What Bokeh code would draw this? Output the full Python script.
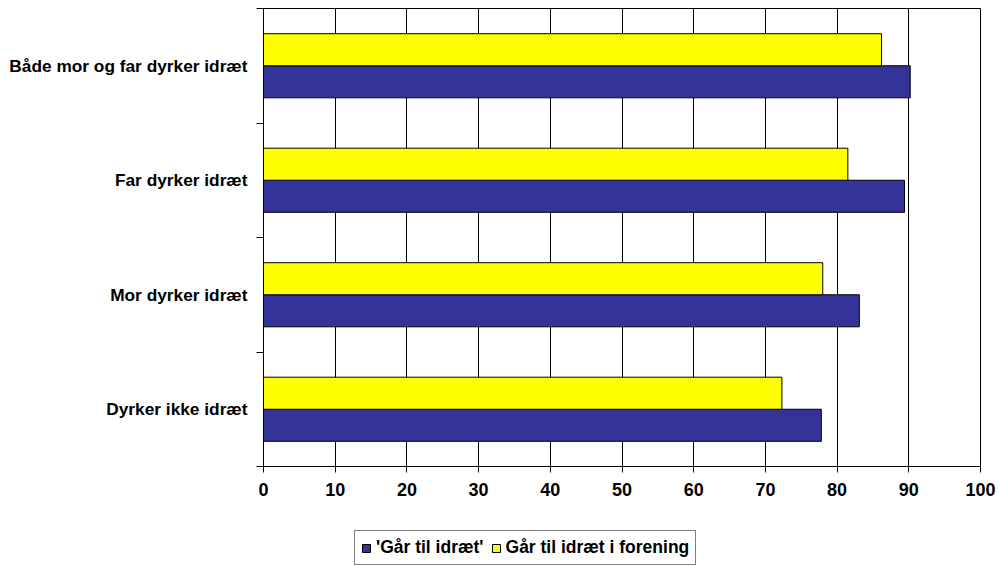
from bokeh.plotting import figure
from bokeh.models import Range1d, FixedTicker, Legend, LegendItem, ColumnDataSource
from bokeh.layouts import column
from bokeh.embed import file_html
from bokeh.resources import INLINE

# Data (top to bottom as in the chart)
categories = ["Både mor og far dyrker idræt", "Far dyrker idræt", "Mor dyrker idræt", "Dyrker ikke idræt"]
gaar_til_idraet = [90.2, 89.4, 83.1, 77.8]
forening = [86.2, 81.5, 78.0, 72.3]
x_ticks = [0, 10, 20, 30, 40, 50, 60, 70, 80, 90, 100]
series_names = ["'Går til idræt'", "Går til idræt i forening"]
colors = ["#333399", "#FFFF00"]

n = len(categories)
ypos = [n - 1 - i + 0.5 for i in range(n)]
bar_h = 0.28

src = ColumnDataSource(dict(
    y=ypos,
    y_blue=[y - bar_h / 2 for y in ypos],
    y_yellow=[y + bar_h / 2 for y in ypos],
    blue=gaar_til_idraet,
    yellow=forening,
))

p = figure(width=998, height=510, output_backend="svg", toolbar_location=None,
           x_range=Range1d(0, 100), y_range=Range1d(0, n),
           min_border_left=263, min_border_right=18, min_border_top=8, min_border_bottom=44)

r_blue = p.hbar(y="y_blue", left=0, right="blue", height=bar_h, source=src,
                fill_color=colors[0], line_color="black", line_width=1)
r_yellow = p.hbar(y="y_yellow", left=0, right="yellow", height=bar_h, source=src,
                  fill_color=colors[1], line_color="black", line_width=1)

p.outline_line_color = "black"
p.outline_line_width = 1
p.background_fill_color = "white"
p.border_fill_color = "white"

# x axis
p.xaxis.ticker = FixedTicker(ticks=x_ticks)
p.xaxis.major_label_text_font = "Liberation Sans"
p.xaxis.major_label_text_font_style = "bold"
p.xaxis.major_label_text_font_size = "18px"
p.xaxis.major_label_text_color = "black"
p.xaxis.major_tick_out = 6
p.xaxis.major_tick_in = 0
p.xaxis.minor_tick_line_color = None
p.xaxis.axis_line_color = "black"
p.xaxis.major_label_standoff = 10

# y axis
p.yaxis.ticker = FixedTicker(ticks=ypos, minor_ticks=list(range(n + 1)))
p.yaxis.major_label_overrides = {y: c for y, c in zip(ypos, categories)}
p.yaxis.major_label_text_font = "Liberation Sans"
p.yaxis.major_label_text_font_style = "bold"
p.yaxis.major_label_text_font_size = "17.3px"
p.yaxis.major_label_text_color = "black"
p.yaxis.major_tick_out = 0
p.yaxis.major_tick_in = 0
p.yaxis.minor_tick_out = 7
p.yaxis.minor_tick_in = 0
p.yaxis.minor_tick_line_color = "black"
p.yaxis.axis_line_color = "black"
p.yaxis.major_label_standoff = 9

p.xgrid.grid_line_color = "black"
p.xgrid.grid_line_alpha = 1
p.xgrid.grid_line_width = 1
p.ygrid.grid_line_color = None

# Legend strip (separate figure so the legend is not clipped by the main frame)
lp = figure(width=998, height=56, output_backend="svg", toolbar_location=None,
            x_range=Range1d(0, 1), y_range=Range1d(0, 1),
            min_border_left=263, min_border_right=18, min_border_top=0, min_border_bottom=0)
lp.axis.visible = False
lp.grid.grid_line_color = None
lp.outline_line_color = None
lp.background_fill_color = "white"
lp.border_fill_color = "white"
# key swatches (hidden under the legend box; only their legend glyphs show)
swatch = ColumnDataSource(dict(y=[0.5], left=[0.3], right=[0.35]))
lg_blue = lp.hbar(y="y", left="left", right="right", height=0.05, source=swatch,
                  fill_color=colors[0], line_color="black", line_width=1)
lg_yellow = lp.hbar(y="y", left="left", right="right", height=0.05, source=swatch,
                    fill_color=colors[1], line_color="black", line_width=1)

legend = Legend(items=[LegendItem(label=series_names[0], renderers=[lg_blue]),
                       LegendItem(label=series_names[1], renderers=[lg_yellow])],
                orientation="horizontal", location=(91, 1))
legend.label_text_font = "Liberation Sans"
legend.label_text_font_style = "bold"
legend.label_text_font_size = "17.5px"
legend.label_text_color = "black"
legend.label_height = 20
legend.glyph_width = 10
legend.glyph_height = 10
legend.label_standoff = 5
legend.spacing = 7
legend.padding = 6
legend.margin = 0
legend.border_line_color = "black"
legend.border_line_width = 1
legend.background_fill_color = "white"
legend.background_fill_alpha = 1
lp.add_layout(legend, "center")

layout = column(p, lp, spacing=0)
open("out.html", "w").write(file_html(layout, INLINE))
